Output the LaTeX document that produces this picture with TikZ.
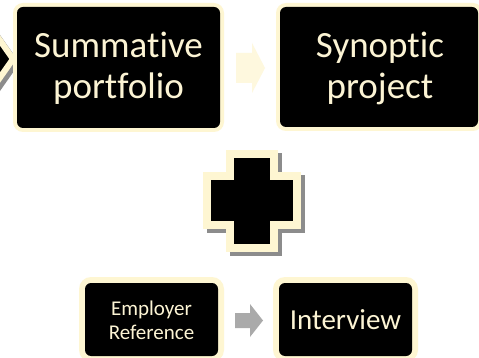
\documentclass[tikz,border=0pt]{standalone}
\usepackage{fontspec}
\setmainfont{Carlito}[Ligatures={NoCommon,NoRequired,NoContextual,NoRare,NoDiscretionary}]
\definecolor{cream}{RGB}{254,246,210}
\definecolor{creamtext}{RGB}{252,244,212}
\definecolor{paleArrow}{RGB}{254,248,222}
\definecolor{shadowgray}{RGB}{140,140,140}
\definecolor{arrowgray}{RGB}{170,170,170}
\begin{document}
\begin{tikzpicture}[x=1pt,y=-1pt,
  boxtext/.style={text=creamtext, align=center, inner sep=0pt},
  bigtext/.style={boxtext, font=\fontsize{37}{41}\selectfont},
  smalltext/.style={boxtext, font=\fontsize{21}{23.5}\selectfont},
  midtext/.style={boxtext, font=\fontsize{29}{33}\selectfont}]
\useasboundingbox (0,0) rectangle (479,358);
\fill[white] (0,0) rectangle (479,358);
% left chevron (previous element, cut off)
\draw[shadowgray, line width=6pt, miter limit=10] ([shift={(3,4)}]-20,12) -- ([shift={(3,4)}]13,59) -- ([shift={(3,4)}]-20,106);
\filldraw[fill=black, draw=cream, line width=6pt, miter limit=10] (-20,12) -- (13,59) -- (-20,106) -- cycle;
% box 1
\fill[cream, rounded corners=10pt] (13,3) rectangle (224,132);
\fill[black, rounded corners=6pt] (17,7) rectangle (220,128);
\node[bigtext] (summ) at (118.5,68) {Summative\\portfolio};
% box 2
\fill[cream, rounded corners=10pt] (276,3) rectangle (483,131);
\fill[black, rounded corners=6pt] (280,7) rectangle (478,127);
\node[bigtext] (syn) at (380,68) {Synoptic\\project};
% top arrow
\fill[paleArrow] (236,53) -- (252,53) -- (252,43) -- (265,68) -- (252,93) -- (252,83) -- (236,83) -- cycle;
% cross
\begin{scope}[shift={(3.5,3.5)}]
\fill[shadowgray] (226,150) rectangle (278,252);
\fill[shadowgray] (203,172) rectangle (301,229);
\end{scope}
\fill[cream] (226,150) rectangle (278,252);
\fill[cream] (203,172) rectangle (301,229);
\fill[black] (234,158) rectangle (270,244);
\fill[black] (211,180) rectangle (293,221);
% employer box
\fill[cream, rounded corners=12pt] (79,277) rectangle (224,362);
\fill[black, rounded corners=6pt] (85,283) rectangle (218,356);
\node[smalltext] (emp) at (151.5,320.5) {Employer\\Reference};
% interview box
\fill[cream, rounded corners=12pt] (273,277) rectangle (418,362);
\fill[black, rounded corners=6pt] (279,283) rectangle (412,356);
\node[midtext] (int) at (345.5,320) {Interview};
% bottom arrow
\fill[arrowgray] (235,313) -- (250,313) -- (250,304) -- (263,320.5) -- (250,337) -- (250,328) -- (235,328) -- cycle;
\end{tikzpicture}
\end{document}
